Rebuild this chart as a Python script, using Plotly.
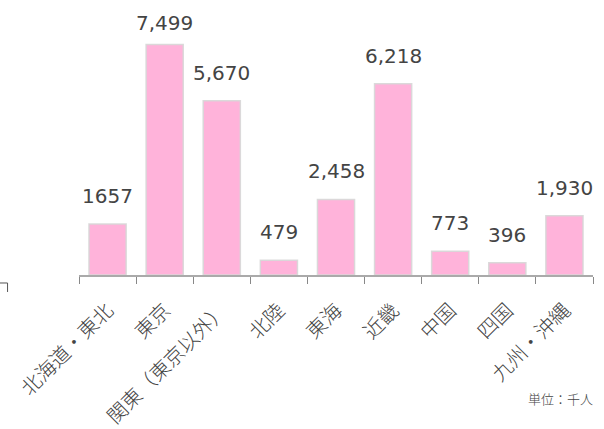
import plotly.graph_objects as go

categories = ["北海道・東北", "東京", "関東（東京以外）", "北陸", "東海", "近畿", "中国", "四国", "九州・沖縄"]
values = [1657, 7499, 5670, 479, 2458, 6218, 773, 396, 1930]
value_labels = ["1657", "7,499", "5,670", "479", "2,458", "6,218", "773", "396", "1,930"]

bar_color = "#FFB3DA"

fig = go.Figure()
fig.add_trace(go.Bar(
    x=categories, y=values, width=0.65,
    marker=dict(color=bar_color, line=dict(color="rgba(215,215,215,0.9)", width=1.5)),
    hoverinfo="skip",
))

vmax = max(values)
for c, v, t in zip(categories, values, value_labels):
    fig.add_annotation(x=c, y=v, text=t, showarrow=False, yanchor="middle",
                       yshift=21 if v == vmax else 28,
                       font=dict(family="DejaVu Sans, Verdana, sans-serif", size=20, color="#444444"))

fig.add_annotation(xref="paper", yref="paper", x=1.004, y=-0.5, xanchor="right", yanchor="middle",
                   text="単位：千人", showarrow=False,
                   font=dict(family="Noto Sans CJK JP", size=13, color="#444444", weight=300))

# small corner mark at left edge
fig.add_shape(type="line", xref="paper", yref="paper", x0=-0.16, x1=-0.139, y0=-0.0325, y1=-0.0325,
              line=dict(color="#555555", width=1))
fig.add_shape(type="line", xref="paper", yref="paper", x0=-0.139, x1=-0.139, y0=-0.0325, y1=-0.069,
              line=dict(color="#555555", width=1))

fig.update_layout(
    width=604, height=429,
    margin=dict(l=79, r=11, t=29, b=154),
    plot_bgcolor="white", paper_bgcolor="white",
    showlegend=False,
    xaxis=dict(
        type="category", tickangle=-45, tickson="boundaries", ticks="outside", ticklen=7,
        tickcolor="#888888", showline=True, linecolor="#aaaaaa", linewidth=1.5,
        tickfont=dict(family="Noto Sans CJK JP", size=20, color="#444444", weight=300),
        ticklabelstandoff=14,
        showgrid=False, range=[-0.5, 8.5], automargin=False,
    ),
    yaxis=dict(range=[0, 8000], visible=False, showgrid=False, zeroline=False),
)

fig.write_html("out.html", config={"displayModeBar": False},
               post_script="document.body.style.margin='0';")
